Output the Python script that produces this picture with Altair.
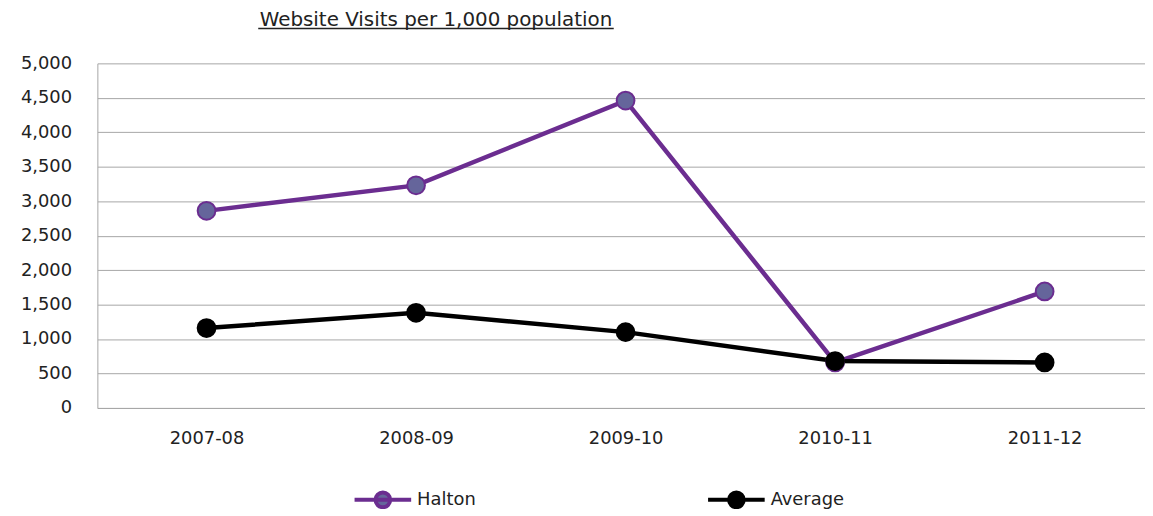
import altair as alt
import pandas as pd

years = ["2007-08", "2008-09", "2009-10", "2010-11", "2011-12"]
halton = [2860, 3230, 4460, 660, 1690]
average = [1160, 1380, 1100, 680, 660]
series_names = ["Halton", "Average"]
line_colors = ["#6b2d90", "#000000"]
fill_colors = ["#65659b", "#000000"]
y_ticks = list(range(0, 5001, 500))
title_text = "Website Visits per 1,000 population"

rows = []
for name, vals in zip(series_names, [halton, average]):
    for yr, v in zip(years, vals):
        rows.append({"year": yr, "series": name, "value": v})
df = pd.DataFrame(rows)

FONT = "DejaVu Sans"
TXT = "#222222"
GRID = "#a6a6a6"

sym_path = "M-1,0L1,0M-0.26,0A0.26,0.26,0,1,1,0.26,0A0.26,0.26,0,1,1,-0.26,0Z"
legend = alt.Legend(
    title=None, orient="none", legendX=257, legendY=409, direction="horizontal",
    symbolType=sym_path, symbolSize=3249, symbolStrokeWidth=4,
    labelFontSize=18, labelFont=FONT, labelColor=TXT, labelOffset=4,
    columnPadding=225, padding=0,
)

stroke_scale = alt.Scale(domain=series_names, range=line_colors)
fill_scale = alt.Scale(domain=series_names, range=fill_colors)

x = alt.X(
    "year:N", sort=years,
    scale=alt.Scale(type="point", domain=years, paddingOuter=0.4795, align=0.521),
    axis=alt.Axis(title=None, labelAngle=0, ticks=False, tickSize=0, labelPadding=22,
                  grid=False, domainColor=GRID, labelFontSize=18, labelFont=FONT,
                  labelColor=TXT),
)
y = alt.Y(
    "value:Q",
    scale=alt.Scale(domain=[0, 5000], nice=False),
    axis=alt.Axis(title=None, values=y_ticks, format=",d", ticks=False, tickSize=0,
                  labelPadding=26, gridColor=GRID, domainColor=GRID, labelFontSize=18,
                  labelFont=FONT, labelColor=TXT),
)

base = alt.Chart(df).encode(x=x, y=y)
lines = base.mark_line(strokeWidth=4.5).encode(
    stroke=alt.Stroke("series:N", scale=stroke_scale, legend=legend)
)
points = base.mark_circle(size=320, strokeWidth=2, opacity=1).encode(
    fill=alt.Fill("series:N", scale=fill_scale, legend=legend),
    stroke=alt.Stroke("series:N", scale=stroke_scale, legend=legend),
)
title_mark = alt.Chart(alt.Data(values=[{"t": title_text}])).mark_text(
    font=FONT, fontSize=20, color=TXT, align="center", baseline="alphabetic"
).encode(text="t:N", x=alt.value(341), y=alt.value(-38))
underline = alt.Chart(alt.Data(values=[{}])).mark_rule(color=TXT, strokeWidth=1.5).encode(
    x=alt.value(162), x2=alt.value(520), y=alt.value(-35)
)

chart = alt.layer(lines, points, title_mark, underline).properties(
    width=1055, height=347,
    autosize=alt.AutoSizeParams(type="none"),
    padding={"left": 90, "top": 54, "right": 0, "bottom": 100},
).configure_view(strokeWidth=0)

chart.save("out.html", embed_options={"renderer": "svg", "actions": False})
